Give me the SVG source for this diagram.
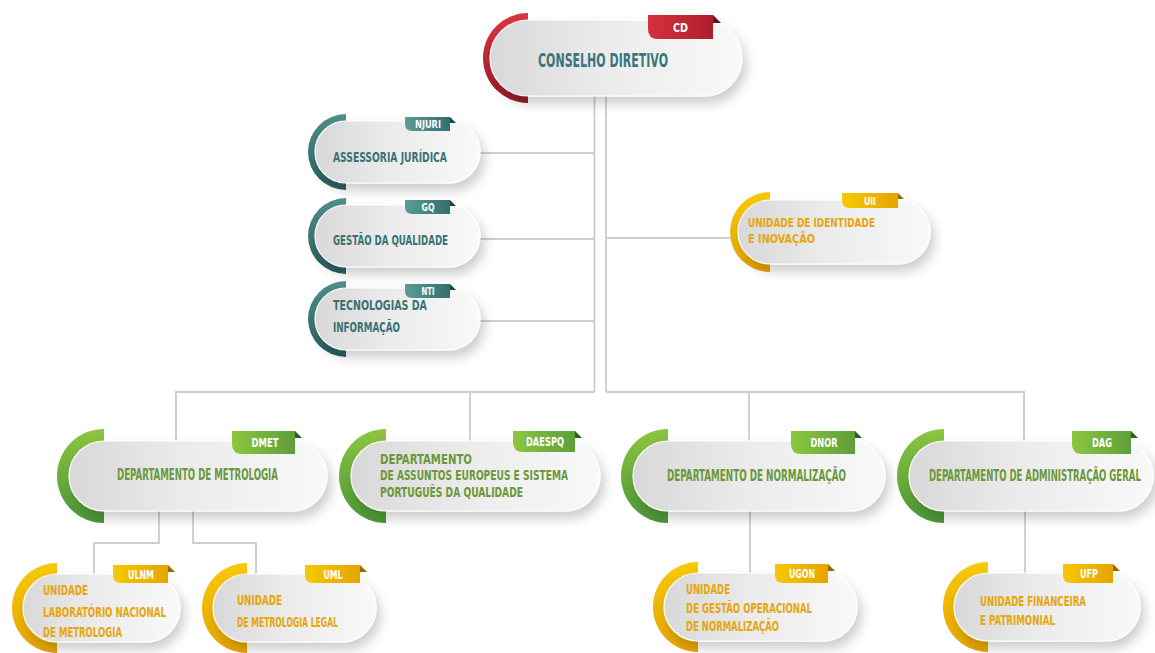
<svg xmlns="http://www.w3.org/2000/svg" width="1155" height="653" viewBox="0 0 1155 653">
<defs>
<linearGradient id="pillG" x1="0" y1="0" x2="1" y2="0">
<stop offset="0" stop-color="#d8d8d8"/><stop offset="0.45" stop-color="#ebebeb"/><stop offset="1" stop-color="#f9f9f9"/>
</linearGradient>
<linearGradient id="gRed" x1="0" y1="0" x2="0" y2="1"><stop offset="0" stop-color="#dc3540"/><stop offset="1" stop-color="#9a1a2a"/></linearGradient>
<linearGradient id="gTeal" x1="0" y1="0" x2="0" y2="1"><stop offset="0" stop-color="#4f8f8b"/><stop offset="1" stop-color="#2a5e60"/></linearGradient>
<linearGradient id="gGreen" x1="0" y1="0" x2="0" y2="1"><stop offset="0" stop-color="#8dc540"/><stop offset="1" stop-color="#4a9638"/></linearGradient>
<linearGradient id="gYel" x1="0" y1="0" x2="0" y2="1"><stop offset="0" stop-color="#f7c90a"/><stop offset="1" stop-color="#e6a500"/></linearGradient>
<linearGradient id="tRed" x1="0" y1="0" x2="1" y2="0"><stop offset="0" stop-color="#d6303b"/><stop offset="1" stop-color="#ad1f2e"/></linearGradient>
<linearGradient id="tTeal" x1="0" y1="0" x2="1" y2="0"><stop offset="0" stop-color="#5b9c95"/><stop offset="1" stop-color="#336f6e"/></linearGradient>
<linearGradient id="tGreen" x1="0" y1="0" x2="1" y2="0"><stop offset="0" stop-color="#8cc63f"/><stop offset="1" stop-color="#5d9f3a"/></linearGradient>
<linearGradient id="tYel" x1="0" y1="0" x2="1" y2="0"><stop offset="0" stop-color="#f6c800"/><stop offset="1" stop-color="#e6a400"/></linearGradient>
<filter id="sh" x="-20%" y="-30%" width="150%" height="180%">
<feDropShadow dx="4" dy="7" stdDeviation="6" flood-color="#000" flood-opacity="0.2"/>
</filter>
<style>
.pill{fill:url(#pillG);stroke:#ffffff;stroke-width:1.2;filter:url(#sh)}
.ln{stroke:#cdcdcd;stroke-width:1.8;fill:none}
.t{font-family:"DejaVu Sans Condensed","Liberation Sans Narrow","Liberation Sans",sans-serif;font-weight:700}
.tag{font-family:"DejaVu Sans Condensed","Liberation Sans Narrow","Liberation Sans",sans-serif;font-weight:700;fill:#ffffff;text-anchor:middle}
.red{fill:#3a777c;font-size:20px}
.teal{fill:#3a7274;font-size:14px}
.green{fill:#6a983a;font-size:15.5px}
.green2{fill:#6a983a;font-size:14px}
.yel{fill:#e6a60c;font-size:14px}
.foldR{fill:#6e0f18}
.foldT{fill:#1c4546}
.foldG{fill:#2f5e22}
.foldY{fill:#9a6a00}
</style>
</defs>
<rect width="1155" height="653" fill="#ffffff"/>

<g id="connectors">
<path class="ln" d="M594.5,96 V392 M606,96 V392"/>
<path class="ln" d="M594.5,153 H478 M594.5,239 H478 M594.5,321 H478"/>
<path class="ln" d="M606,238 H732"/>
<path class="ln" d="M594.5,392 H176 V442 M470,392 V442"/>
<path class="ln" d="M606,392 H1024 V442 M749,392 V442"/>
<path class="ln" d="M159,510 V543 H94 V575 M193,510 V543 H256 V575"/>
<path class="ln" d="M750,510 V575 M1025,510 V575"/>
</g>

<g id="node-cd">
<path d="M528,13 A45,45 0 0 0 528,103 Z" fill="url(#gRed)"/>
<rect class="pill" x="490" y="20" width="252" height="76" rx="38"/>
<path d="M648,15 H713 V39 H658 Q648,39 648,29 Z" fill="url(#tRed)"/>
<polygon class="foldR" points="713,15 721,23 713,23"/>
<text class="tag" x="680.5" y="32" font-size="12" textLength="15" lengthAdjust="spacingAndGlyphs">CD</text>
<text class="t red" x="538" y="67" textLength="130" lengthAdjust="spacingAndGlyphs">CONSELHO DIRETIVO</text>
</g>

<g id="node-njuri">
<path d="M346,114 A38,38 0 0 0 346,190 Z" fill="url(#gTeal)"/>
<rect class="pill" x="315" y="121" width="165" height="62" rx="31"/>
<path d="M405,117 H450 V131 H412 Q405,131 405,124 Z" fill="url(#tTeal)"/>
<polygon class="foldT" points="450,117 456,123 450,123"/>
<text class="tag" x="428" y="128" font-size="10.5" textLength="26" lengthAdjust="spacingAndGlyphs">NJURI</text>
<text class="t teal" x="333" y="162" textLength="114" lengthAdjust="spacingAndGlyphs">ASSESSORIA JURÍDICA</text>
</g>

<g id="node-gq">
<path d="M346,198 A38,38 0 0 0 346,274 Z" fill="url(#gTeal)"/>
<rect class="pill" x="315" y="205" width="165" height="62" rx="31"/>
<path d="M405,200 H450 V214 H412 Q405,214 405,207 Z" fill="url(#tTeal)"/>
<polygon class="foldT" points="450,200 456,206 450,206"/>
<text class="tag" x="428" y="211" font-size="10.5" textLength="13" lengthAdjust="spacingAndGlyphs">GQ</text>
<text class="t teal" x="333" y="245" textLength="115" lengthAdjust="spacingAndGlyphs">GESTÃO DA QUALIDADE</text>
</g>

<g id="node-nti">
<path d="M346,281 A38,38 0 0 0 346,357 Z" fill="url(#gTeal)"/>
<rect class="pill" x="315" y="288" width="165" height="62" rx="31"/>
<path d="M405,284 H450 V298 H412 Q405,298 405,291 Z" fill="url(#tTeal)"/>
<polygon class="foldT" points="450,284 456,290 450,290"/>
<text class="tag" x="428" y="295" font-size="10.5" textLength="13" lengthAdjust="spacingAndGlyphs">NTI</text>
<text class="t teal" x="333" y="310" textLength="94" lengthAdjust="spacingAndGlyphs">TECNOLOGIAS DA</text>
<text class="t teal" x="333" y="332" textLength="67" lengthAdjust="spacingAndGlyphs">INFORMAÇÃO</text>
</g>

<g id="node-uii">
<path d="M770,192 A40,40 0 0 0 770,272 Z" fill="url(#gYel)"/>
<rect class="pill" x="738" y="200" width="192" height="64" rx="32"/>
<path d="M842,193 H898 V208 H850 Q842,208 842,200 Z" fill="url(#tYel)"/>
<polygon class="foldY" points="898,193 904,199 898,199"/>
<text class="tag" x="870" y="205" font-size="11" textLength="12" lengthAdjust="spacingAndGlyphs">UII</text>
<text class="t yel" x="748" y="227" textLength="127" lengthAdjust="spacingAndGlyphs" style="font-size:13px">UNIDADE DE IDENTIDADE</text>
<text class="t yel" x="748" y="243" textLength="67" lengthAdjust="spacingAndGlyphs" style="font-size:13px">E INOVAÇÃO</text>
</g>

<g id="node-dmet">
<path d="M104,429 A47,47 0 0 0 104,523 Z" fill="url(#gGreen)"/>
<rect class="pill" x="69" y="441" width="258" height="70" rx="35"/>
<path d="M232,431 H295 V454 H242 Q232,454 232,444 Z" fill="url(#tGreen)"/>
<polygon class="foldG" points="295,431 302,438 295,438"/>
<text class="tag" x="265" y="447" font-size="12" textLength="27" lengthAdjust="spacingAndGlyphs">DMET</text>
<text class="t green" x="117" y="480" textLength="161" lengthAdjust="spacingAndGlyphs">DEPARTAMENTO DE METROLOGIA</text>
</g>

<g id="node-daespq">
<path d="M386,429 A47,47 0 0 0 386,523 Z" fill="url(#gGreen)"/>
<rect class="pill" x="351" y="441" width="249" height="70" rx="35"/>
<path d="M513,431 H575 V452 H523 Q513,452 513,442 Z" fill="url(#tGreen)"/>
<polygon class="foldG" points="575,431 582,438 575,438"/>
<text class="tag" x="545" y="446" font-size="12" textLength="38" lengthAdjust="spacingAndGlyphs">DAESPQ</text>
<text class="t green2" x="380" y="464" textLength="92" lengthAdjust="spacingAndGlyphs">DEPARTAMENTO</text>
<text class="t green2" x="380" y="480" textLength="188" lengthAdjust="spacingAndGlyphs">DE ASSUNTOS EUROPEUS E SISTEMA</text>
<text class="t green2" x="380" y="497" textLength="143" lengthAdjust="spacingAndGlyphs">PORTUGUÊS DA QUALIDADE</text>
</g>

<g id="node-dnor">
<path d="M668,429 A47,47 0 0 0 668,523 Z" fill="url(#gGreen)"/>
<rect class="pill" x="633" y="441" width="252" height="70" rx="35"/>
<path d="M791,431 H855 V454 H801 Q791,454 791,444 Z" fill="url(#tGreen)"/>
<polygon class="foldG" points="855,431 862,438 855,438"/>
<text class="tag" x="824" y="447" font-size="12" textLength="27" lengthAdjust="spacingAndGlyphs">DNOR</text>
<text class="t green" x="667" y="481" textLength="179" lengthAdjust="spacingAndGlyphs">DEPARTAMENTO DE NORMALIZAÇÃO</text>
</g>

<g id="node-dag">
<path d="M944,429 A47,47 0 0 0 944,523 Z" fill="url(#gGreen)"/>
<rect class="pill" x="909" y="441" width="244" height="70" rx="35"/>
<path d="M1072,431 H1131 V454 H1082 Q1072,454 1072,444 Z" fill="url(#tGreen)"/>
<polygon class="foldG" points="1131,431 1138,438 1131,438"/>
<text class="tag" x="1102" y="447" font-size="12" textLength="20" lengthAdjust="spacingAndGlyphs">DAG</text>
<text class="t green" transform="translate(929 481) scale(0.64 1)" x="0" y="0" textLength="331" lengthAdjust="spacingAndGlyphs">DEPARTAMENTO DE ADMINISTRAÇÃO GERAL</text>
</g>

<g id="node-ulnm">
<path d="M57,563 A45,45 0 0 0 57,653 Z" fill="url(#gYel)"/>
<rect class="pill" x="23" y="574" width="157" height="68" rx="34"/>
<path d="M113,565 H168 V583 H121 Q113,583 113,575 Z" fill="url(#tYel)"/>
<polygon class="foldY" points="168,565 175,572 168,572"/>
<text class="tag" x="141" y="578.5" font-size="11.5" textLength="26" lengthAdjust="spacingAndGlyphs">ULNM</text>
<text class="t yel" x="43" y="595" textLength="45" lengthAdjust="spacingAndGlyphs">UNIDADE</text>
<text class="t yel" x="43" y="617" textLength="123" lengthAdjust="spacingAndGlyphs">LABORATÓRIO NACIONAL</text>
<text class="t yel" x="43" y="637" textLength="79" lengthAdjust="spacingAndGlyphs">DE METROLOGIA</text>
</g>

<g id="node-uml">
<path d="M247,563 A45,45 0 0 0 247,653 Z" fill="url(#gYel)"/>
<rect class="pill" x="213" y="574" width="163" height="68" rx="34"/>
<path d="M305,565 H360 V583 H313 Q305,583 305,575 Z" fill="url(#tYel)"/>
<polygon class="foldY" points="360,565 367,572 360,572"/>
<text class="tag" x="333" y="578.5" font-size="11.5" textLength="19" lengthAdjust="spacingAndGlyphs">UML</text>
<text class="t yel" x="237" y="605" textLength="45" lengthAdjust="spacingAndGlyphs">UNIDADE</text>
<text class="t yel" x="237" y="627" textLength="101" lengthAdjust="spacingAndGlyphs">DE METROLOGIA LEGAL</text>
</g>

<g id="node-ugon">
<path d="M698,562 A45,45 0 0 0 698,652 Z" fill="url(#gYel)"/>
<rect class="pill" x="664" y="573" width="193" height="68" rx="34"/>
<path d="M775,564 H828 V583 H783 Q775,583 775,575 Z" fill="url(#tYel)"/>
<polygon class="foldY" points="828,564 835,571 828,571"/>
<text class="tag" x="802" y="578" font-size="11.5" textLength="26" lengthAdjust="spacingAndGlyphs">UGON</text>
<text class="t yel" x="686" y="594" textLength="44" lengthAdjust="spacingAndGlyphs">UNIDADE</text>
<text class="t yel" x="686" y="613" textLength="126" lengthAdjust="spacingAndGlyphs">DE GESTÃO OPERACIONAL</text>
<text class="t yel" x="686" y="631" textLength="93" lengthAdjust="spacingAndGlyphs">DE NORMALIZAÇÃO</text>
</g>

<g id="node-ufp">
<path d="M988,562 A45,45 0 0 0 988,652 Z" fill="url(#gYel)"/>
<rect class="pill" x="954" y="573" width="186" height="68" rx="34"/>
<path d="M1063,564 H1113 V583 H1071 Q1063,583 1063,575 Z" fill="url(#tYel)"/>
<polygon class="foldY" points="1113,564 1120,571 1113,571"/>
<text class="tag" x="1089" y="578" font-size="11.5" textLength="18" lengthAdjust="spacingAndGlyphs">UFP</text>
<text class="t yel" x="980" y="606" textLength="106" lengthAdjust="spacingAndGlyphs">UNIDADE FINANCEIRA</text>
<text class="t yel" x="980" y="625" textLength="75" lengthAdjust="spacingAndGlyphs">E PATRIMONIAL</text>
</g>
</svg>
